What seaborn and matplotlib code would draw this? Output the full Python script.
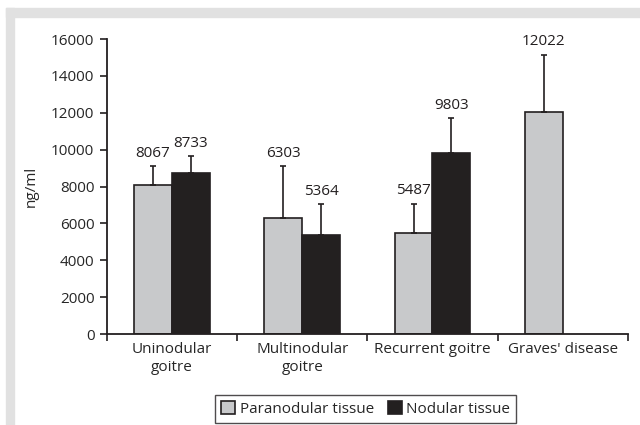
import seaborn as sns
import numpy as np
import matplotlib.pyplot as plt
import pandas as pd
from matplotlib.patches import Rectangle

# values
categories = ["Uninodular\ngoitre", "Multinodular\ngoitre", "Recurrent goitre", "Graves' disease"]
paranodular = [8067, 6303, 5487, 12022]
nodular = [8733, 5364, 9803, np.nan]
paranodular_err = [1030, 2800, 1590, 3130]
nodular_err = [920, 1680, 1890, np.nan]
series = ["Paranodular tissue", "Nodular tissue"]

df = pd.DataFrame({
    "group": categories * 2,
    "tissue": [series[0]] * 4 + [series[1]] * 4,
    "value": paranodular + nodular,
})

sns.set_style("ticks")
plt.rcParams["font.family"] = ["Open Sans", "DejaVu Sans"]
plt.rcParams["font.size"] = 11

fig = plt.figure(figsize=(6.4, 4.25), dpi=100)
ax = fig.add_axes([0.167, 0.214, 0.814, 0.694])

# light grey frame strip along top and left
fig.patches.append(Rectangle((6 / 640, 0), 8 / 640, 1 - 8 / 425, transform=fig.transFigure,
                             color="#e1e1e1", zorder=0))
fig.patches.append(Rectangle((6 / 640, 1 - 17 / 425), 1, 9 / 425, transform=fig.transFigure,
                             color="#e1e1e1", zorder=0))

sns.barplot(data=df, x="group", y="value", hue="tissue", hue_order=series,
            palette=["#c8c9cb", "#231f20"], width=0.58, errorbar=None,
            edgecolor="#231f20", linewidth=1.2, ax=ax)

for cont, vals, errs in zip(ax.containers, [paranodular, nodular], [paranodular_err, nodular_err]):
    for bar, v, e in zip(cont, vals, errs):
        if np.isnan(v):
            continue
        xc = bar.get_x() + bar.get_width() / 2
        ax.errorbar(xc, v, yerr=[[0], [e]], fmt="none", ecolor="#231f20",
                    elinewidth=1.2, capsize=2.5, capthick=1.2, zorder=1)
        ax.annotate(str(int(v)), (xc, v + e), xytext=(0, 4), textcoords="offset points",
                    ha="center", va="bottom", fontsize=11, color="#231f20")

ax.set_ylim(0, 16000)
ax.set_yticks(np.arange(0, 16001, 2000))
ax.set_xlim(-0.5, 3.5)
ax.set_xticks(range(4))
ax.set_xticklabels(categories, linespacing=1.2)
ax.set_xticks(np.arange(-0.5, 3.6, 1), minor=True)
ax.tick_params(axis="x", which="major", length=0, pad=6)
ax.tick_params(axis="x", which="minor", length=5, width=1.2, direction="out", color="#231f20")
ax.tick_params(axis="y", length=5, width=1.2, color="#231f20", pad=4)
ax.set_xlabel("")
ax.set_ylabel("ng/ml", labelpad=9)
for s in ["left", "bottom"]:
    ax.spines[s].set_linewidth(1.3)
    ax.spines[s].set_color("#231f20")
sns.despine(ax=ax)

ax.legend(loc="center", bbox_to_anchor=(0.497, -0.255), ncol=2, frameon=True,
          fancybox=False, edgecolor="#231f20", handlelength=0.9, handleheight=0.9,
          handletextpad=0.3, columnspacing=0.9, borderpad=0.4, fontsize=11)
ax.get_legend().get_frame().set_linewidth(1.0)

fig.savefig("out.png", dpi=100)
